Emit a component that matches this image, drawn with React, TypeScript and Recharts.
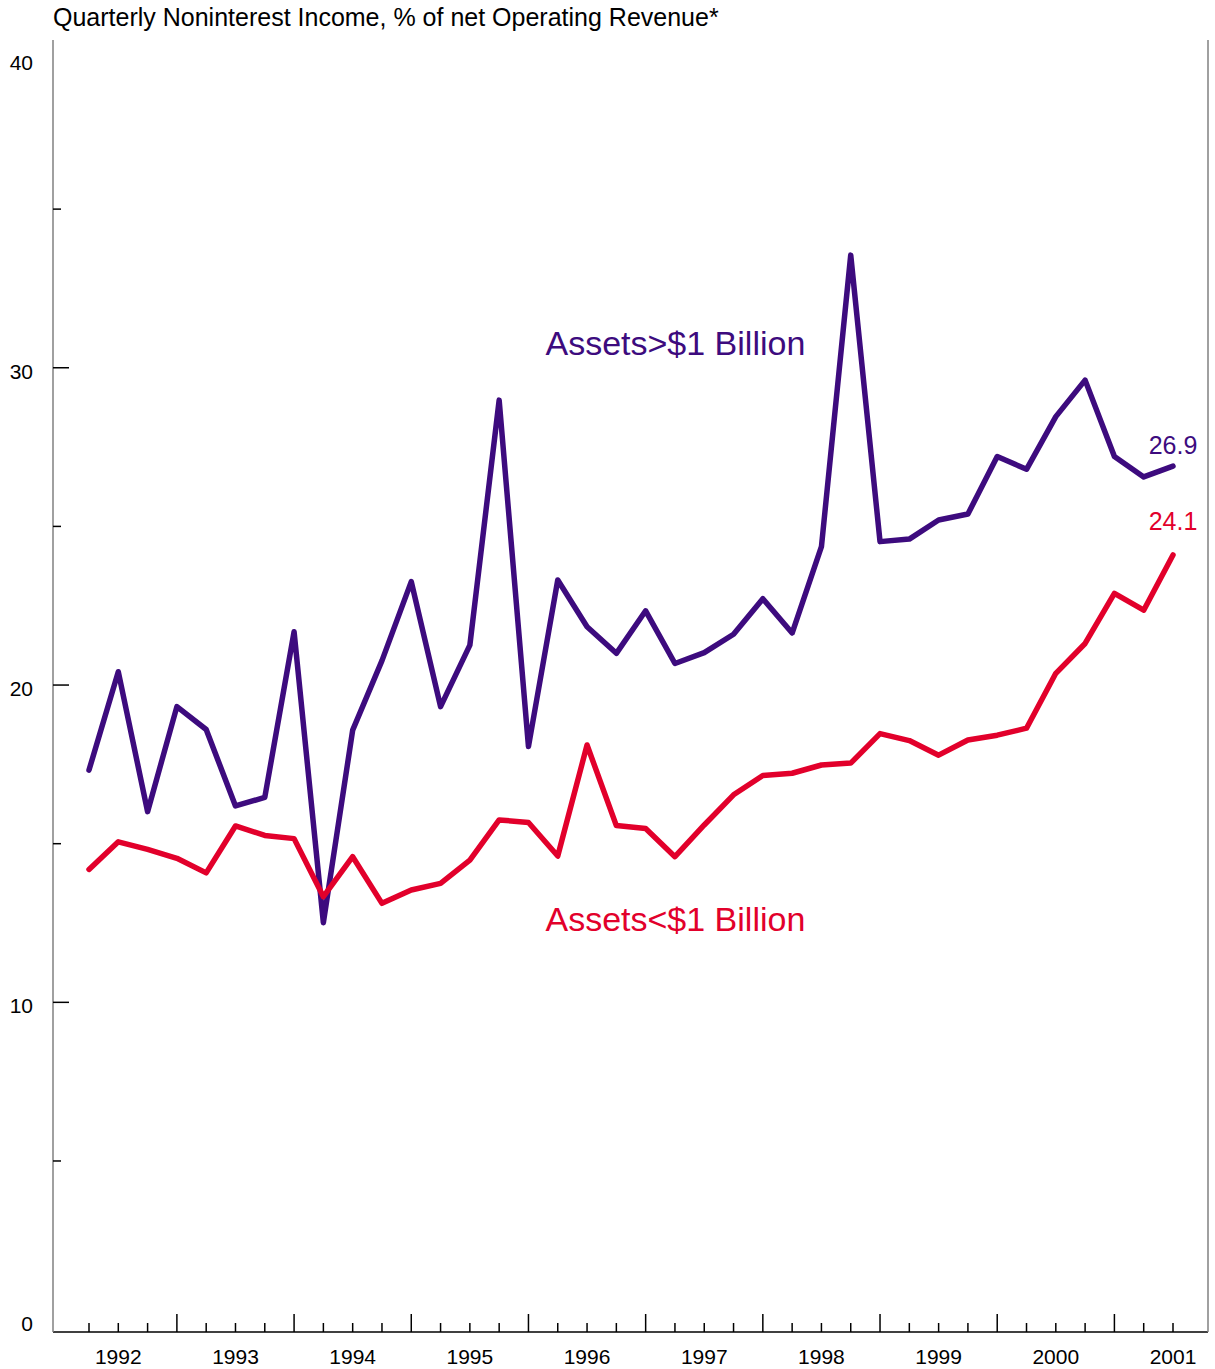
import { LineChart, Line, XAxis, YAxis, ReferenceDot } from 'recharts';

// Quarterly noninterest income as % of net operating revenue, 1992 Q1 - 2001 Q2
const years = [1992, 1993, 1994, 1995, 1996, 1997, 1998, 1999, 2000, 2001];
const quarters = years.flatMap(y => ['Q1', 'Q2', 'Q3', 'Q4'].map(q => `${y} ${q}`)).slice(0, 38);

const largeBanks = [
  17.32, 20.42, 16.01, 19.32, 18.6, 16.19, 16.46, 21.68, 12.51, 18.58,
  20.77, 23.26, 19.32, 21.26, 28.98, 18.06, 23.31, 21.84, 21.0, 22.34,
  20.68, 21.02, 21.6, 22.72, 21.64, 24.36, 33.55, 24.52, 24.6, 25.2,
  25.39, 27.2, 26.8, 28.46, 29.61, 27.2, 26.56, 26.9,
];

const smallBanks = [
  14.19, 15.06, 14.82, 14.54, 14.08, 15.56, 15.26, 15.16, 13.33, 14.59,
  13.12, 13.54, 13.75, 14.48, 15.75, 15.67, 14.61, 18.11, 15.57, 15.48,
  14.59, 15.59, 16.54, 17.15, 17.22, 17.48, 17.54, 18.47, 18.25, 17.79,
  18.27, 18.42, 18.64, 20.37, 21.31, 22.89, 22.36, 24.1,
];

const yTicks = [0, 5, 10, 15, 20, 25, 30, 35, 40];
const yMin = 0;
const yMax = 40;

const PURPLE = '#3d0b7e';
const RED = '#e2002b';

const data = quarters.map((q, i) => ({ q, large: largeBanks[i], small: smallBanks[i] }));
const last = data.length - 1;

const YTick = (props: any) => {
  const { x, y, payload } = props;
  const v = payload.value;
  const major = v % 10 === 0;
  const edge = v === yMin || v === yMax;
  // top label sits just inside the frame
  const ty = v === yMax ? y + 20 : y + 11;
  return (
    <g>
      {!edge && <line x1={x} x2={x + (major ? 16 : 8)} y1={y} y2={y} stroke="#000" strokeWidth={1.5} />}
      {major && (
        <text x={x - 20} y={ty} textAnchor="end" fontSize={21} fill="#000">
          {v}
        </text>
      )}
    </g>
  );
};

const XTick = (props: any) => {
  const { x, y, payload, index } = props;
  const major = index % 4 === 3;
  return (
    <g>
      <line x1={x} x2={x} y1={y} y2={y - (major ? 18 : 9)} stroke="#000" strokeWidth={1.5} />
      {index % 4 === 1 && (
        <text x={x} y={y + 32} textAnchor="middle" fontSize={21} fill="#000">
          {String(payload.value).slice(0, 4)}
        </text>
      )}
    </g>
  );
};

const App = () => {
  return (
    <div
      style={{
        position: 'absolute',
        left: 0,
        top: 0,
        width: 1215,
        height: 1369,
        background: '#fff',
        fontFamily: '"Liberation Sans", Arial, sans-serif',
      }}
    >
      <div style={{ position: 'absolute', left: 53, top: 5, fontSize: 25, lineHeight: '25px', color: '#000' }}>
        Quarterly Noninterest Income, % of net Operating Revenue*
      </div>
      <LineChart width={1215} height={1369} data={data} margin={{ top: 40, right: 0, bottom: 0, left: 0 }}>
        <XAxis
          dataKey="q"
          interval={0}
          padding={{ left: 36, right: 35 }}
          height={37}
          tickSize={0}
          tickMargin={0}
          tickLine={false}
          axisLine={{ stroke: '#000', strokeWidth: 1.5 }}
          tick={<XTick />}
        />
        <XAxis xAxisId="top" orientation="top" dataKey="q" height={0} tick={false} tickLine={false} axisLine={{ stroke: '#808080', strokeWidth: 1.5 }} />
        <YAxis
          type="number"
          domain={[-0.39, 40.33]}
          ticks={yTicks}
          interval={0}
          allowDataOverflow
          width={53}
          tickSize={0}
          tickMargin={0}
          tickLine={false}
          axisLine={{ stroke: '#808080', strokeWidth: 1.5 }}
          tick={<YTick />}
        />
        <YAxis yAxisId="right" orientation="right" width={7} tick={false} tickLine={false} axisLine={{ stroke: '#808080', strokeWidth: 1.5 }} />
        <Line
          dataKey="large"
          stroke={PURPLE}
          strokeWidth={5.5}
          dot={false}
          strokeLinecap="round"
          strokeLinejoin="round"
          isAnimationActive={false}
        />
        <Line
          dataKey="small"
          stroke={RED}
          strokeWidth={5.5}
          dot={false}
          strokeLinecap="round"
          strokeLinejoin="round"
          isAnimationActive={false}
        />
        <ReferenceDot
          x={quarters[15]}
          y={30.78}
          r={0}
          stroke="none"
          label={{ value: 'Assets>$1 Billion', position: 'right', offset: 17, fill: PURPLE, fontSize: 34 }}
        />
        <ReferenceDot
          x={quarters[15]}
          y={12.63}
          r={0}
          stroke="none"
          label={{ value: 'Assets<$1 Billion', position: 'right', offset: 17, fill: RED, fontSize: 34 }}
        />
        <ReferenceDot
          x={quarters[last]}
          y={largeBanks[last]}
          r={0}
          stroke="none"
          label={{ value: largeBanks[last].toFixed(1), position: 'top', offset: 12, fill: PURPLE, fontSize: 25 }}
        />
        <ReferenceDot
          x={quarters[last]}
          y={smallBanks[last]}
          r={0}
          stroke="none"
          label={{ value: smallBanks[last].toFixed(1), position: 'top', offset: 25, fill: RED, fontSize: 25 }}
        />
      </LineChart>
    </div>
  );
};

export default App;
